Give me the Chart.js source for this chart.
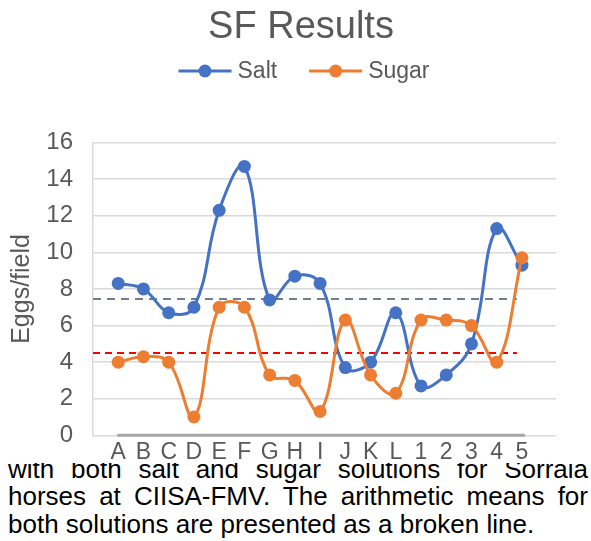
<!DOCTYPE html>
<html>
<head>
<meta charset="utf-8">
<script src="https://cdn.jsdelivr.net/npm/chart.js@4.4.0/dist/chart.umd.min.js"></script>
<style>
    body { margin: 0; width: 591px; height: 541px; overflow: hidden; background: #fff; position: relative; }
    #chart { position: absolute; left: 0; top: 0; background: #fff; z-index: 2; }
    #caption {
        position: absolute; left: 8px; top: 456px; width: 580px; margin: 0; z-index: 1;
        font-family: "Liberation Sans", Arial, sans-serif; font-size: 26px; line-height: 27.3px;
        color: #000; text-align: justify;
    }
</style>
</head>
<body>
<canvas id="chart" width="591" height="463"></canvas>
<p id="caption">with both salt and sugar solutions for Sorraia horses at CIISA-FMV. The arithmetic means for both solutions are presented as a broken line.</p>
<script>
// =======================
// DATA
// =======================
let categories = ["A", "B", "C", "D", "E", "F", "G", "H", "I", "J", "K", "L", "1", "2", "3", "4", "5"];
let saltValues = [8.3, 8.0, 6.7, 7.0, 12.3, 14.7, 7.4, 8.7, 8.3, 3.7, 4.0, 6.7, 2.7, 3.3, 5.0, 11.3, 9.3];
let sugarValues = [4.0, 4.3, 4.0, 1.0, 7.0, 7.0, 3.3, 3.0, 1.3, 6.3, 3.3, 2.3, 6.3, 6.3, 6.0, 4.0, 9.7];
let saltMean = 7.45;
let sugarMean = 4.5;
let yTicks = [0, 2, 4, 6, 8, 10, 12, 14, 16];

let blue = "#4472C4";
let orange = "#ED7D31";
let grey = "#595959";
let font = "'Liberation Sans', Arial, sans-serif";

function toPoints(values) {
    return values.map((v, i) => ({ x: i, y: v }));
}

// mean lines run from the axis to just past the last-but-one category
function meanLine(value) {
    return [{ x: -1, y: value }, { x: categories.length - 1.2, y: value }];
}

// =======================
// PLUGINS
// =======================
let axisLine = {
    id: "axisLine",
    beforeDatasetsDraw(chart) {
        let ctx = chart.ctx;
        let x = chart.scales.x, y = chart.scales.y;
        ctx.save();
        ctx.strokeStyle = "#A6A6A6";
        ctx.lineWidth = 3;
        ctx.beginPath();
        ctx.moveTo(x.getPixelForValue(0) - 1, y.getPixelForValue(0));
        ctx.lineTo(x.getPixelForValue(categories.length - 1) + 3, y.getPixelForValue(0));
        ctx.stroke();
        ctx.restore();
    }
};

let lineLegend = {
    id: "lineLegend",
    afterDraw(chart) {
        let ctx = chart.ctx;
        let items = [
            { text: "Salt", color: blue },
            { text: "Sugar", color: orange }
        ];
        let lineLen = 53, gap = 6, spacing = 32, cy = 71;
        ctx.save();
        ctx.font = "23px " + font;
        let total = 0;
        items.forEach((it, i) => {
            it.w = ctx.measureText(it.text).width;
            total += lineLen + gap + it.w + (i > 0 ? spacing : 0);
        });
        let x = 304 - total / 2;
        items.forEach(it => {
            ctx.strokeStyle = it.color;
            ctx.lineWidth = 3;
            ctx.beginPath();
            ctx.moveTo(x, cy);
            ctx.lineTo(x + lineLen, cy);
            ctx.stroke();
            ctx.fillStyle = it.color;
            ctx.beginPath();
            ctx.arc(x + lineLen / 2, cy, 6.5, 0, Math.PI * 2);
            ctx.fill();
            ctx.fillStyle = grey;
            ctx.textBaseline = "middle";
            ctx.fillText(it.text, x + lineLen + gap, cy + 1);
            x += lineLen + gap + it.w + spacing;
        });
        ctx.restore();
    }
};

// =======================
// CHART
// =======================
new Chart(document.getElementById("chart"), {
    type: "line",
    data: {
        datasets: [
            {
                label: "Salt",
                data: toPoints(saltValues),
                borderColor: blue,
                backgroundColor: blue,
                borderWidth: 3,
                pointRadius: 6.5,
                pointBorderWidth: 0,
                tension: 0.4,
                order: 2
            },
            {
                label: "Sugar",
                data: toPoints(sugarValues),
                borderColor: orange,
                backgroundColor: orange,
                borderWidth: 3,
                pointRadius: 6.5,
                pointBorderWidth: 0,
                tension: 0.4,
                order: 1
            },
            {
                label: "Salt mean",
                data: meanLine(saltMean),
                borderColor: "#44546A",
                borderWidth: 1.5,
                borderDash: [8, 6],
                pointRadius: 0,
                order: 10
            },
            {
                label: "Sugar mean",
                data: meanLine(sugarMean),
                borderColor: "#FF0000",
                borderWidth: 2,
                borderDash: [7, 5],
                pointRadius: 0,
                order: 10
            }
        ]
    },
    options: {
        responsive: false,
        animation: false,
        layout: { padding: { left: 11, right: 0, top: 0, bottom: 0 } },
        plugins: {
            legend: { display: false },
            tooltip: { enabled: false },
            title: {
                display: true,
                text: "SF Results",
                color: grey,
                font: { family: font, size: 38, weight: "normal" },
                padding: { top: 5, bottom: 92 }
            }
        },
        scales: {
            x: {
                type: "linear",
                min: -1,
                max: 17.35,
                grid: { display: false },
                border: { display: false },
                ticks: {
                    stepSize: 1,
                    maxTicksLimit: 40,
                    autoSkip: false,
                    maxRotation: 0,
                    padding: -4.5,
                    color: grey,
                    font: { family: font, size: 23 },
                    callback: v => (Number.isInteger(v) && categories[v]) ? categories[v] : ""
                },
                afterFit: s => { s.height = 27.7; s.paddingRight = 35; }
            },
            y: {
                min: 0,
                max: 16,
                grid: { color: "#D9D9D9", lineWidth: 1.5, drawTicks: false },
                border: { display: true, color: "#D9D9D9", width: 1.5 },
                ticks: {
                    stepSize: 2,
                    padding: 20,
                    color: grey,
                    font: { family: font, size: 24 },
                    callback: v => yTicks.includes(v) ? v : ""
                },
                title: {
                    display: true,
                    text: "Eggs/field",
                    color: grey,
                    font: { family: font, size: 25 },
                    padding: { top: -4, bottom: 0 }
                },
                afterFit: s => { s.width = 82; s.paddingTop = 0; s.paddingBottom = 0; }
            }
        }
    },
    plugins: [axisLine, lineLegend]
});
</script>
</body>
</html>
